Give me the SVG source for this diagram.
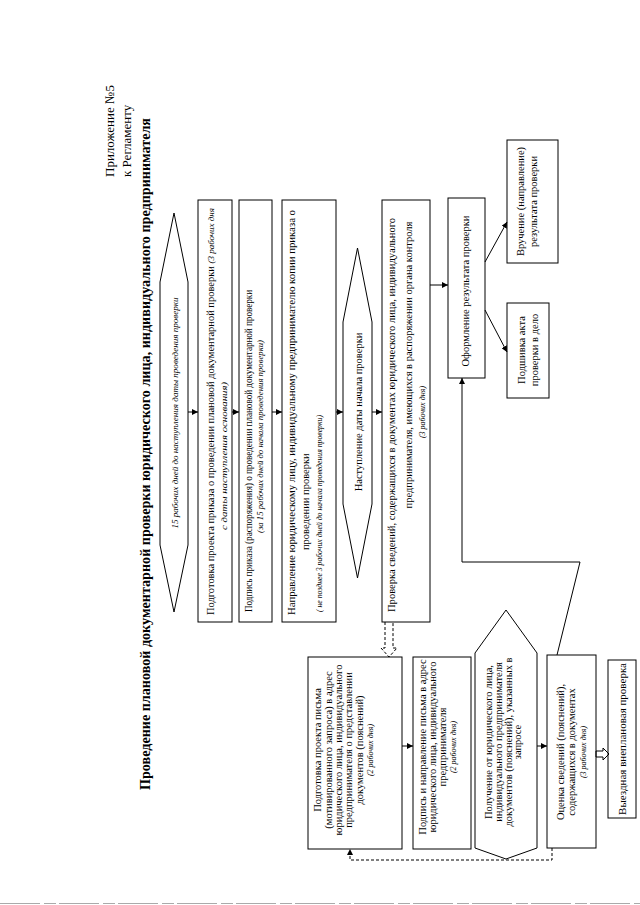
<svg xmlns="http://www.w3.org/2000/svg" width="640" height="905" viewBox="0 0 640 905">
<defs>
<style>
.t{font-family:"Liberation Serif","Times New Roman",serif;font-size:10.5px;fill:#000}
.i{font-style:italic;font-size:8px}
.c{text-anchor:middle}
.b{fill:#fff;stroke:#000;stroke-width:1}
.ln{fill:none;stroke:#000;stroke-width:1}
.dash{fill:none;stroke:#000;stroke-width:1;stroke-dasharray:3,2}
</style>
<marker id="ah" viewBox="0 0 8 8" refX="8" refY="4" markerWidth="6" markerHeight="6" orient="auto" markerUnits="userSpaceOnUse">
<path d="M0,0 L8,4 L0,8 Z" fill="#000"/>
</marker>
</defs>
<rect width="640" height="905" fill="#fff"/>
<line x1="0" y1="903.5" x2="640" y2="903.5" stroke="#aaa" stroke-width="1" stroke-dasharray="40,4,12,3"/>
<g transform="translate(0,905) rotate(-90)">
<g id="header">
<text class="t" x="728" y="114" style="font-size:13px">Приложение №5</text>
<text class="t" x="728" y="131" style="font-size:13px">к Регламенту</text>
</g>
<g id="title">
<text class="t c" x="451" y="150" style="font-size:14px;font-weight:bold" textLength="672" lengthAdjust="spacingAndGlyphs">Проведение плановой документарной проверки юридического лица, индивидуального предпринимателя</text>
</g>
<g id="hex1">
<polygon class="b" points="293,174 360,160 623,160 692,174 623,188 360,188"/>
<text class="t i c" x="492" y="177.5" textLength="231" lengthAdjust="spacingAndGlyphs">15 рабочих дней до  наступления даты проведения проверки</text>
</g>
<g id="box1">
<rect class="b" x="283" y="198" width="422" height="34"/>
<text class="t" x="290" y="213.5" textLength="407" lengthAdjust="spacingAndGlyphs">Подготовка проекта приказа о проведении плановой документарной проверки <tspan style="font-style:italic;font-size:9px">(3  рабочих дня</tspan></text>
<text class="t i" x="375" y="226.5" textLength="148" lengthAdjust="spacingAndGlyphs">с даты наступления основания)</text>
</g>
<g id="box2">
<rect class="b" x="283" y="239" width="422" height="33"/>
<text class="t" x="293" y="251.5" textLength="322" lengthAdjust="spacingAndGlyphs">Подпись приказа (распоряжения) о проведении плановой документарной проверки</text>
<text class="t i" x="372" y="263" textLength="193" lengthAdjust="spacingAndGlyphs">(за 15 рабочих дней до начала проведения проверки)</text>
</g>
<g id="box3">
<rect class="b" x="283" y="282" width="422" height="54"/>
<text class="t" x="290" y="294.5" textLength="405" lengthAdjust="spacingAndGlyphs">Направление юридическому лицу, индивидуальному предпринимателю копии приказа о</text>
<text class="t" x="355" y="308.5">проведении проверки</text>
<text class="t i" x="293" y="322" textLength="197" lengthAdjust="spacingAndGlyphs">( не позднее 3 рабочих дней до начала проведения проверки)</text>
</g>
<g id="hex2">
<polygon class="b" points="327,357.5 401,343 583,343 657,357.5 583,372 401,372"/>
<text class="t c" x="493" y="361.5">Наступление даты начала проверки</text>
</g>
<g id="box4">
<rect class="b" x="283" y="382" width="422" height="48"/>
<text class="t" x="293" y="394.5" textLength="394" lengthAdjust="spacingAndGlyphs">Проверка сведений, содержащихся в документах юридического лица, индивидуального</text>
<text class="t c" x="540" y="411.5">предпринимателя, имеющихся в распоряжении органа контроля</text>
<text class="t i c" x="493" y="425">(3 рабочих дня)</text>
</g>
<g id="oform">
<rect class="b" x="527" y="448" width="180" height="37"/>
<text class="t c" x="614" y="469">Оформление результата проверки</text>
</g>
<g id="vruch">
<rect class="b" x="642" y="507" width="123" height="51"/>
<text class="t c" x="703.5" y="524">Вручение (направление)</text>
<text class="t c" x="703.5" y="536.5">результата проверки</text>
</g>
<g id="podsh">
<rect class="b" x="507" y="507" width="95" height="42"/>
<text class="t c" x="555" y="525">Подшивка акта</text>
<text class="t c" x="555" y="538">проверки в дело</text>
</g>
<g id="boxA">
<rect class="b" x="56" y="308" width="192" height="94"/>
<text class="t c" x="155" y="320.5">Подготовка проекта письма</text>
<text class="t c" x="155" y="331.5">(мотивированного запроса) в адрес</text>
<text class="t c" x="155" y="341.5">юридического лица, индивидуального</text>
<text class="t c" x="155" y="351.5">предпринимателя о представлении</text>
<text class="t c" x="155" y="363">документов (пояснений)</text>
<text class="t i c" x="155" y="373">(2 рабочих дня)</text>
</g>
<g id="boxB">
<rect class="b" x="56" y="413" width="192" height="58"/>
<text class="t c" x="158" y="425.5">Подпись и направление письма в адрес</text>
<text class="t c" x="158" y="435.5">юридического лица, индивидуального</text>
<text class="t c" x="158" y="446">предпринимателя</text>
<text class="t i c" x="158" y="456">(2 рабочих дня)</text>
</g>
<g id="hex3">
<polygon class="b" points="295,506 252,537 57,537 46,506 57,475 252,475"/>
<text class="t c" x="163" y="491.5">Получение от юридического лица,</text>
<text class="t c" x="163" y="501.5">индивидуального предпринимателя</text>
<text class="t c" x="163" y="511.5">документов (пояснений), указанных в</text>
<text class="t c" x="163" y="520.5">запросе</text>
</g>
<g id="ocenka">
<rect class="b" x="57" y="547" width="193" height="49"/>
<text class="t c" x="153" y="563.5">Оценка сведений (пояснений),</text>
<text class="t c" x="153" y="574.5">содержащихся в документах</text>
<text class="t i c" x="153" y="586">(3 рабочих дня)</text>
</g>
<g id="vyezd">
<rect class="b" x="87" y="608" width="158" height="28"/>
<text class="t c" x="166" y="626" style="font-size:11px">Выездная внеплановая проверка</text>
</g>
<g id="connectors">
<line class="ln" x1="493" y1="188" x2="493" y2="198" marker-end="url(#ah)"/>
<line class="ln" x1="493" y1="232" x2="493" y2="239" marker-end="url(#ah)"/>
<line class="ln" x1="493" y1="272" x2="493" y2="282" marker-end="url(#ah)"/>
<line class="ln" x1="493" y1="336" x2="493" y2="343" marker-end="url(#ah)"/>
<line class="ln" x1="493" y1="372" x2="493" y2="382" marker-end="url(#ah)"/>
<line class="ln" x1="620" y1="430" x2="620" y2="448" marker-end="url(#ah)"/>
<line class="ln" x1="643" y1="485" x2="683" y2="507" marker-end="url(#ah)"/>
<line class="ln" x1="595" y1="485" x2="553" y2="507" marker-end="url(#ah)"/>
<polyline class="ln" points="250,557 343,580 343,462 527,462" marker-end="url(#ah)"/>
<line class="ln" x1="159" y1="402" x2="159" y2="413" marker-end="url(#ah)"/>
<line class="ln" x1="159" y1="537" x2="159" y2="547" marker-end="url(#ah)"/>
<path class="dash" d="M283,385 L257,385 L257,381 L248,389 L257,397 L257,393 L283,393"/>
<polyline class="dash" points="57,552 45,552 45,350 56,350" marker-end="url(#ah)"/>
<path class="ln" d="M148,596 L148,603 L145,603 L151,609 L157,603 L154,603 L154,596 Z" fill="#fff"/>
</g>
</g>
</svg>
